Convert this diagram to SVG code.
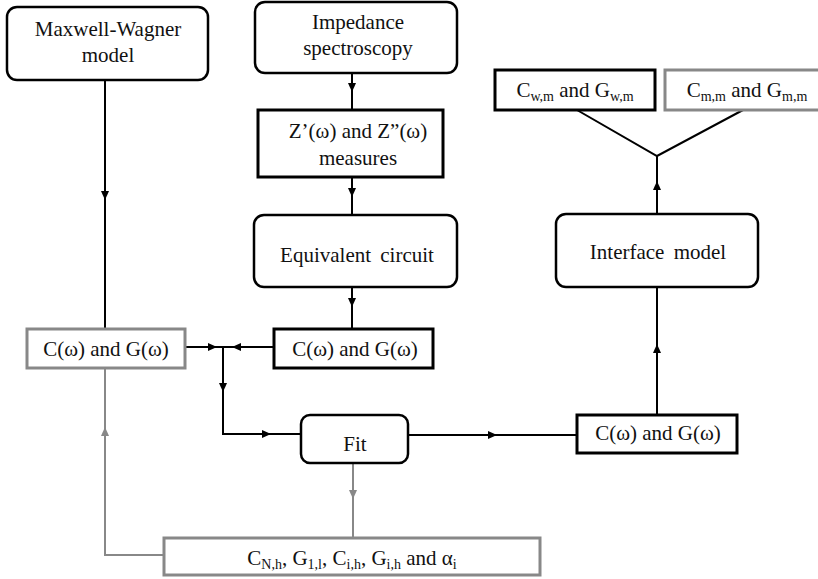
<svg xmlns="http://www.w3.org/2000/svg" width="818" height="579" viewBox="0 0 818 579">
<style>
text{font-family:"Liberation Serif","Times New Roman",serif;font-size:21px;fill:#111;text-anchor:middle}
.rb{fill:#fff;stroke:#000;stroke-width:2.5}
.bb{fill:#fff;stroke:#000;stroke-width:3}
.gb{fill:#fff;stroke:#888;stroke-width:3}
.c{fill:none;stroke:#000;stroke-width:2}
.g{fill:none;stroke:#888;stroke-width:2}
.s{font-size:14px}
</style>
<defs>
<marker id="ah" markerUnits="userSpaceOnUse" markerWidth="9" markerHeight="8" refX="9" refY="4" orient="auto"><path d="M0,0 L9,4 L0,8 z" fill="#000"/></marker>
<marker id="ahg" markerUnits="userSpaceOnUse" markerWidth="9" markerHeight="8" refX="9" refY="4" orient="auto"><path d="M0,0 L9,4 L0,8 z" fill="#888"/></marker>
</defs>
<g id="connectors">
<path class="c" d="M105,80 V200" marker-end="url(#ah)"/><path class="c" d="M105,200 V329"/>
<path class="c" d="M352,73 V92" marker-end="url(#ah)"/><path class="c" d="M352,92 V110"/>
<path class="c" d="M352,177 V197" marker-end="url(#ah)"/><path class="c" d="M352,197 V215"/>
<path class="c" d="M352,287 V307" marker-end="url(#ah)"/><path class="c" d="M352,307 V329"/>
<path class="c" d="M185,347 H217" marker-end="url(#ah)"/><path class="c" d="M217,347 H223"/>
<path class="c" d="M274,347 H232" marker-end="url(#ah)"/><path class="c" d="M232,347 H223"/>
<path class="c" d="M223,347 V392" marker-end="url(#ah)"/><path class="c" d="M223,392 V434 H271" marker-end="url(#ah)"/><path class="c" d="M271,434 H302"/>
<path class="c" d="M408,435 H497" marker-end="url(#ah)"/><path class="c" d="M497,435 H577"/>
<path class="c" d="M657,415 V344" marker-end="url(#ah)"/><path class="c" d="M657,344 V287"/>
<path class="c" d="M657,214 V181" marker-end="url(#ah)"/><path class="c" d="M657,181 V156"/>
<path class="c" d="M577,110 L657,156 L743,110"/>
<path class="g" d="M353,463 V499" marker-end="url(#ahg)"/><path class="g" d="M353,499 V538"/>
<path class="g" d="M164,555 H105 V427" marker-end="url(#ahg)"/><path class="g" d="M105,427 V368"/>
</g>
<g id="maxwell"><rect class="rb" x="7" y="7" width="201" height="73" rx="10"/><text x="108" y="36">Maxwell-Wagner</text><text x="108" y="62">model</text></g>
<g id="impedance"><rect class="rb" x="255" y="2" width="202" height="71" rx="10"/><text x="358" y="29">Impedance</text><text x="358" y="55">spectroscopy</text></g>
<g id="zmeasures"><rect class="bb" x="258" y="110" width="185" height="67"/><text x="358" y="138">Z’(ω) and Z”(ω)</text><text x="358" y="165">measures</text></g>
<g id="equivalent"><rect class="rb" x="254" y="215" width="203" height="72" rx="10"/><text x="357" y="262" word-spacing="4">Equivalent circuit</text></g>
<g id="cg-left"><rect class="gb" x="27" y="329" width="158" height="39"/><text x="106" y="356">C(ω) and G(ω)</text></g>
<g id="cg-mid"><rect class="bb" x="274" y="329" width="159" height="39"/><text x="355" y="356">C(ω) and G(ω)</text></g>
<g id="fit"><rect class="rb" x="301" y="415" width="107" height="48" rx="9"/><text x="355" y="451">Fit</text></g>
<g id="cg-right"><rect class="bb" x="577" y="415" width="160" height="38"/><text x="658" y="440">C(ω) and G(ω)</text></g>
<g id="interface"><rect class="rb" x="556" y="214" width="202" height="73" rx="10"/><text x="658" y="259" word-spacing="4">Interface model</text></g>
<g id="cwm"><rect class="bb" x="495" y="70" width="160" height="40"/><text x="575" y="97">C<tspan class="s" dy="4">w,m</tspan><tspan dy="-4"> and G</tspan><tspan class="s" dy="4">w,m</tspan></text></g>
<g id="cmm"><rect class="gb" x="665" y="70" width="170" height="40"/><text x="747" y="97">C<tspan class="s" dy="4">m,m</tspan><tspan dy="-4"> and G</tspan><tspan class="s" dy="4">m,m</tspan></text></g>
<g id="params"><rect class="gb" x="164" y="538" width="376" height="37"/><text x="352" y="565">C<tspan class="s" dy="4">N,h</tspan><tspan dy="-4">, G</tspan><tspan class="s" dy="4">1,l</tspan><tspan dy="-4">, C</tspan><tspan class="s" dy="4">i,h</tspan><tspan dy="-4">, G</tspan><tspan class="s" dy="4">i,h</tspan><tspan dy="-4"> and α</tspan><tspan class="s" dy="4">i</tspan></text></g>
</svg>
